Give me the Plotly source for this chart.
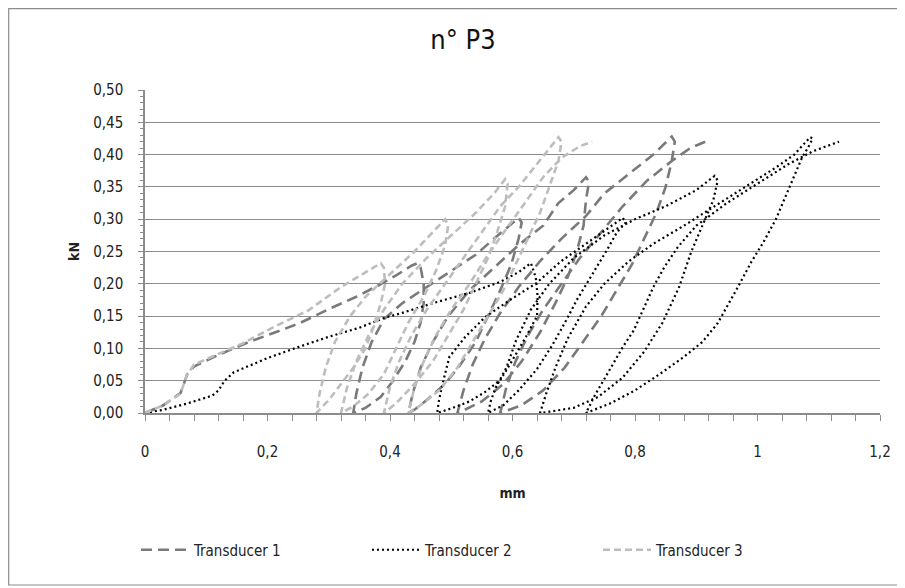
import plotly.graph_objects as go

# ---------------- data ----------------
t1_x = [0, 0.03, 0.058, 0.069, 0.08, 0.12, 0.17, 0.25, 0.305, 0.345, 0.38, 0.41, 0.435, 0.445,
        0.45, 0.455, 0.455, 0.45, 0.44, 0.425, 0.405, 0.385, 0.36, 0.34,
        0.345, 0.355, 0.37, 0.39, 0.42, 0.46, 0.50, 0.54, 0.57, 0.595, 0.61,
        0.615, 0.61, 0.598, 0.58, 0.56, 0.54, 0.515, 0.49, 0.46, 0.44, 0.43,
        0.437, 0.45, 0.47, 0.495, 0.53, 0.57, 0.61, 0.65, 0.675, 0.70, 0.72,
        0.725, 0.72, 0.716, 0.705, 0.69, 0.67, 0.645, 0.615, 0.585, 0.55, 0.52, 0.51,
        0.52, 0.535, 0.555, 0.58, 0.61, 0.645, 0.68, 0.72, 0.75, 0.79, 0.83, 0.86,
        0.865, 0.86, 0.85, 0.835, 0.815, 0.795, 0.77, 0.745, 0.715, 0.685, 0.65, 0.615, 0.58,
        0.59, 0.605, 0.625, 0.65, 0.68, 0.71, 0.745, 0.78, 0.82, 0.86, 0.89, 0.915]
t1_y = [0, 0.012, 0.031, 0.06, 0.072, 0.09, 0.11, 0.138, 0.163, 0.18, 0.197, 0.213, 0.228, 0.232,
        0.225, 0.2, 0.17, 0.14, 0.11, 0.08, 0.05, 0.025, 0.008, 0,
        0.03, 0.07, 0.11, 0.145, 0.17, 0.195, 0.22, 0.245, 0.27, 0.29, 0.302,
        0.295, 0.27, 0.23, 0.19, 0.15, 0.11, 0.075, 0.045, 0.02, 0.005, 0,
        0.03, 0.07, 0.11, 0.15, 0.19, 0.225, 0.26, 0.29, 0.325, 0.345, 0.365,
        0.358, 0.33, 0.29, 0.25, 0.21, 0.17, 0.125, 0.08, 0.045, 0.018, 0.004, 0,
        0.035, 0.075, 0.115, 0.155, 0.195, 0.235, 0.27, 0.305, 0.34, 0.37, 0.4, 0.428,
        0.42, 0.39, 0.35, 0.31, 0.27, 0.23, 0.19, 0.15, 0.11, 0.07, 0.035, 0.012, 0,
        0.04, 0.08, 0.12, 0.16, 0.2, 0.24, 0.28, 0.32, 0.36, 0.39, 0.41, 0.42]

t2_x = [0, 0.03, 0.07, 0.11, 0.12, 0.13, 0.145, 0.2, 0.25, 0.3, 0.35, 0.39, 0.42, 0.47, 0.53, 0.58, 0.61, 0.63,
        0.638, 0.641, 0.64, 0.622, 0.60, 0.58, 0.556, 0.53, 0.50, 0.477,
        0.48, 0.486, 0.497, 0.523, 0.556, 0.596, 0.639, 0.678, 0.72, 0.755, 0.78,
        0.785, 0.77, 0.754, 0.737, 0.72, 0.705, 0.688, 0.665, 0.64, 0.61, 0.585, 0.56,
        0.565, 0.573, 0.59, 0.606, 0.63, 0.66, 0.70, 0.75, 0.80, 0.85, 0.90, 0.93,
        0.935, 0.928, 0.91, 0.892, 0.872, 0.845, 0.815, 0.78, 0.74, 0.70, 0.66, 0.645,
        0.655, 0.67, 0.69, 0.72, 0.75, 0.79, 0.83, 0.88, 0.93, 0.98, 1.03, 1.06, 1.086,
        1.09, 1.082, 1.073, 1.05, 1.03, 1.01, 0.99, 0.968, 0.935, 0.91, 0.88, 0.84, 0.80, 0.76, 0.73, 0.72,
        0.733, 0.749, 0.76, 0.78, 0.798, 0.815, 0.83, 0.848, 0.87, 0.90, 0.95, 1.0, 1.05, 1.09, 1.133]
t2_y = [0, 0.005, 0.015, 0.027, 0.035, 0.05, 0.063, 0.085, 0.102, 0.118, 0.132, 0.147, 0.155, 0.17, 0.186, 0.203, 0.218, 0.232,
        0.21, 0.18, 0.15, 0.118, 0.082, 0.051, 0.033, 0.018, 0.007, 0,
        0.02, 0.046, 0.087, 0.118, 0.149, 0.175, 0.201, 0.234, 0.262, 0.285, 0.302,
        0.295, 0.279, 0.252, 0.226, 0.2, 0.175, 0.144, 0.105, 0.068, 0.035, 0.012, 0,
        0.02, 0.04, 0.07, 0.113, 0.16, 0.2, 0.24, 0.275, 0.3, 0.32, 0.345, 0.367,
        0.36, 0.33, 0.29, 0.25, 0.195, 0.14, 0.095, 0.055, 0.025, 0.008, 0.002, 0,
        0.03, 0.07, 0.115, 0.165, 0.2, 0.235, 0.262, 0.29, 0.32, 0.35, 0.38, 0.4, 0.427,
        0.425, 0.41, 0.396, 0.345, 0.3, 0.265, 0.234, 0.195, 0.139, 0.11, 0.087, 0.06, 0.035, 0.015, 0.003, 0,
        0.025, 0.051, 0.071, 0.102, 0.128, 0.164, 0.195, 0.226, 0.257, 0.29, 0.325, 0.355, 0.385, 0.405, 0.42]

t3_x = [0, 0.03, 0.058, 0.068, 0.08, 0.12, 0.16, 0.21, 0.267, 0.32, 0.36, 0.385,
        0.39, 0.392, 0.385, 0.372, 0.36, 0.34, 0.32, 0.30, 0.285, 0.28,
        0.285, 0.295, 0.31, 0.335, 0.36, 0.40, 0.44, 0.47, 0.49,
        0.495, 0.49, 0.475, 0.455, 0.43, 0.41, 0.39, 0.365, 0.34, 0.32,
        0.33, 0.345, 0.365, 0.39, 0.42, 0.46, 0.50, 0.54, 0.57, 0.588,
        0.592, 0.588, 0.575, 0.56, 0.54, 0.52, 0.495, 0.47, 0.44, 0.41, 0.39,
        0.40, 0.415, 0.435, 0.46, 0.49, 0.52, 0.55, 0.58, 0.61, 0.64, 0.66, 0.675,
        0.68, 0.675, 0.66, 0.645, 0.625, 0.605, 0.585, 0.56, 0.535, 0.51, 0.48, 0.45, 0.43,
        0.44, 0.455, 0.475, 0.5, 0.53, 0.56, 0.59, 0.62, 0.65, 0.68, 0.71, 0.73]
t3_y = [0, 0.012, 0.03, 0.058, 0.075, 0.092, 0.108, 0.133, 0.159, 0.195, 0.218, 0.232,
        0.225, 0.2, 0.17, 0.13, 0.1, 0.07, 0.045, 0.02, 0.005, 0,
        0.03, 0.07, 0.11, 0.15, 0.18, 0.215, 0.25, 0.28, 0.30,
        0.29, 0.26, 0.22, 0.18, 0.14, 0.1, 0.06, 0.03, 0.01, 0,
        0.04, 0.08, 0.12, 0.16, 0.2, 0.24, 0.275, 0.31, 0.34, 0.362,
        0.355, 0.32, 0.28, 0.24, 0.2, 0.16, 0.12, 0.08, 0.045, 0.015, 0,
        0.04, 0.08, 0.12, 0.16, 0.2, 0.24, 0.28, 0.32, 0.35, 0.385, 0.41, 0.427,
        0.42, 0.39, 0.35, 0.31, 0.27, 0.23, 0.19, 0.15, 0.11, 0.07, 0.035, 0.012, 0,
        0.04, 0.08, 0.12, 0.16, 0.2, 0.245, 0.285, 0.325, 0.365, 0.395, 0.413, 0.42]

series_names = ["Transducer 1", "Transducer 2", "Transducer 3"]
title_text = "n° P3"
x_title = "mm"
y_title = "kN"

# ---------------- figure ----------------
FONT = "DejaVu Sans Condensed, DejaVu Sans, Verdana, sans-serif"
W, H = 905, 588
# the page adds an 8px body margin, so figure pixels = screen pixels - 8
L, R, T, B = 137, 33, 82, 183

fig = go.Figure()
fig.add_trace(go.Scatter(x=t1_x, y=t1_y, mode="lines", name=series_names[0],
                         line=dict(color="#7a7a7a", width=2.6, dash="11px,6px")))
fig.add_trace(go.Scatter(x=t2_x, y=t2_y, mode="lines", name=series_names[1],
                         line=dict(color="#000000", width=2.2, dash="2px,3px")))
fig.add_trace(go.Scatter(x=t3_x, y=t3_y, mode="lines", name=series_names[2],
                         line=dict(color="#bdbdbd", width=2.6, dash="7px,4px")))

pw, ph = W - L - R, H - T - B
def px_x(p):
    return (p - L) / pw
def px_y(p):
    return (H - B - p) / ph

fig.update_layout(
    width=W, height=H,
    margin=dict(l=L, r=R, t=T, b=B, autoexpand=False),
    paper_bgcolor="white", plot_bgcolor="white",
    separators=",.",
    font=dict(family=FONT, size=14, color="#222222"),
    title=dict(text=title_text, x=455 / W, xanchor="center", y=1 - 32 / H, yanchor="middle",
               xref="container", yref="container", font=dict(size=27, color="#111111")),
    showlegend=True,
    legend=dict(orientation="h", x=px_x(128), xanchor="left", y=px_y(542), yanchor="middle",
                font=dict(size=15, color="#222222"), itemwidth=48,
                entrywidth=168, entrywidthmode="pixels", tracegroupgap=0,
                bgcolor="rgba(0,0,0,0)"),
    hovermode=False,
    shapes=[dict(type="rect", xref="paper", yref="paper",
                 x0=px_x(0.7), x1=px_x(892), y0=px_y(577), y1=px_y(0.7),
                 line=dict(color="#8c8c8c", width=1.2), layer="below")],
)

fig.update_xaxes(range=[0, 1.2], dtick=0.2, tick0=0, showgrid=False, zeroline=False,
                 showline=True, linecolor="#8c8c8c", linewidth=1.5,
                 ticks="outside", ticklen=6, tickcolor="#8c8c8c",
                 minor=dict(dtick=0.04, ticks="outside", ticklen=6, tickcolor="#8c8c8c"),
                 ticklabelstandoff=18, tickfont=dict(size=15),
                 title=dict(text="<b>" + x_title + "</b>", standoff=28, font=dict(size=14)))
fig.update_yaxes(range=[0, 0.5], dtick=0.05, tick0=0, tickformat=".2f",
                 showgrid=True, gridcolor="#8c8c8c", gridwidth=1.3, zeroline=False,
                 showline=True, linecolor="#8c8c8c", linewidth=1.5,
                 ticks="outside", ticklen=5, tickcolor="#8c8c8c",
                 minor=dict(dtick=0.01, ticks="outside", ticklen=3, tickcolor="#8c8c8c"),
                 ticklabelstandoff=12, tickfont=dict(size=15),
                 title=dict(text="<b>" + y_title + "</b>", standoff=10, font=dict(size=14)))

fig.write_html("out.html", config={"displayModeBar": False})
